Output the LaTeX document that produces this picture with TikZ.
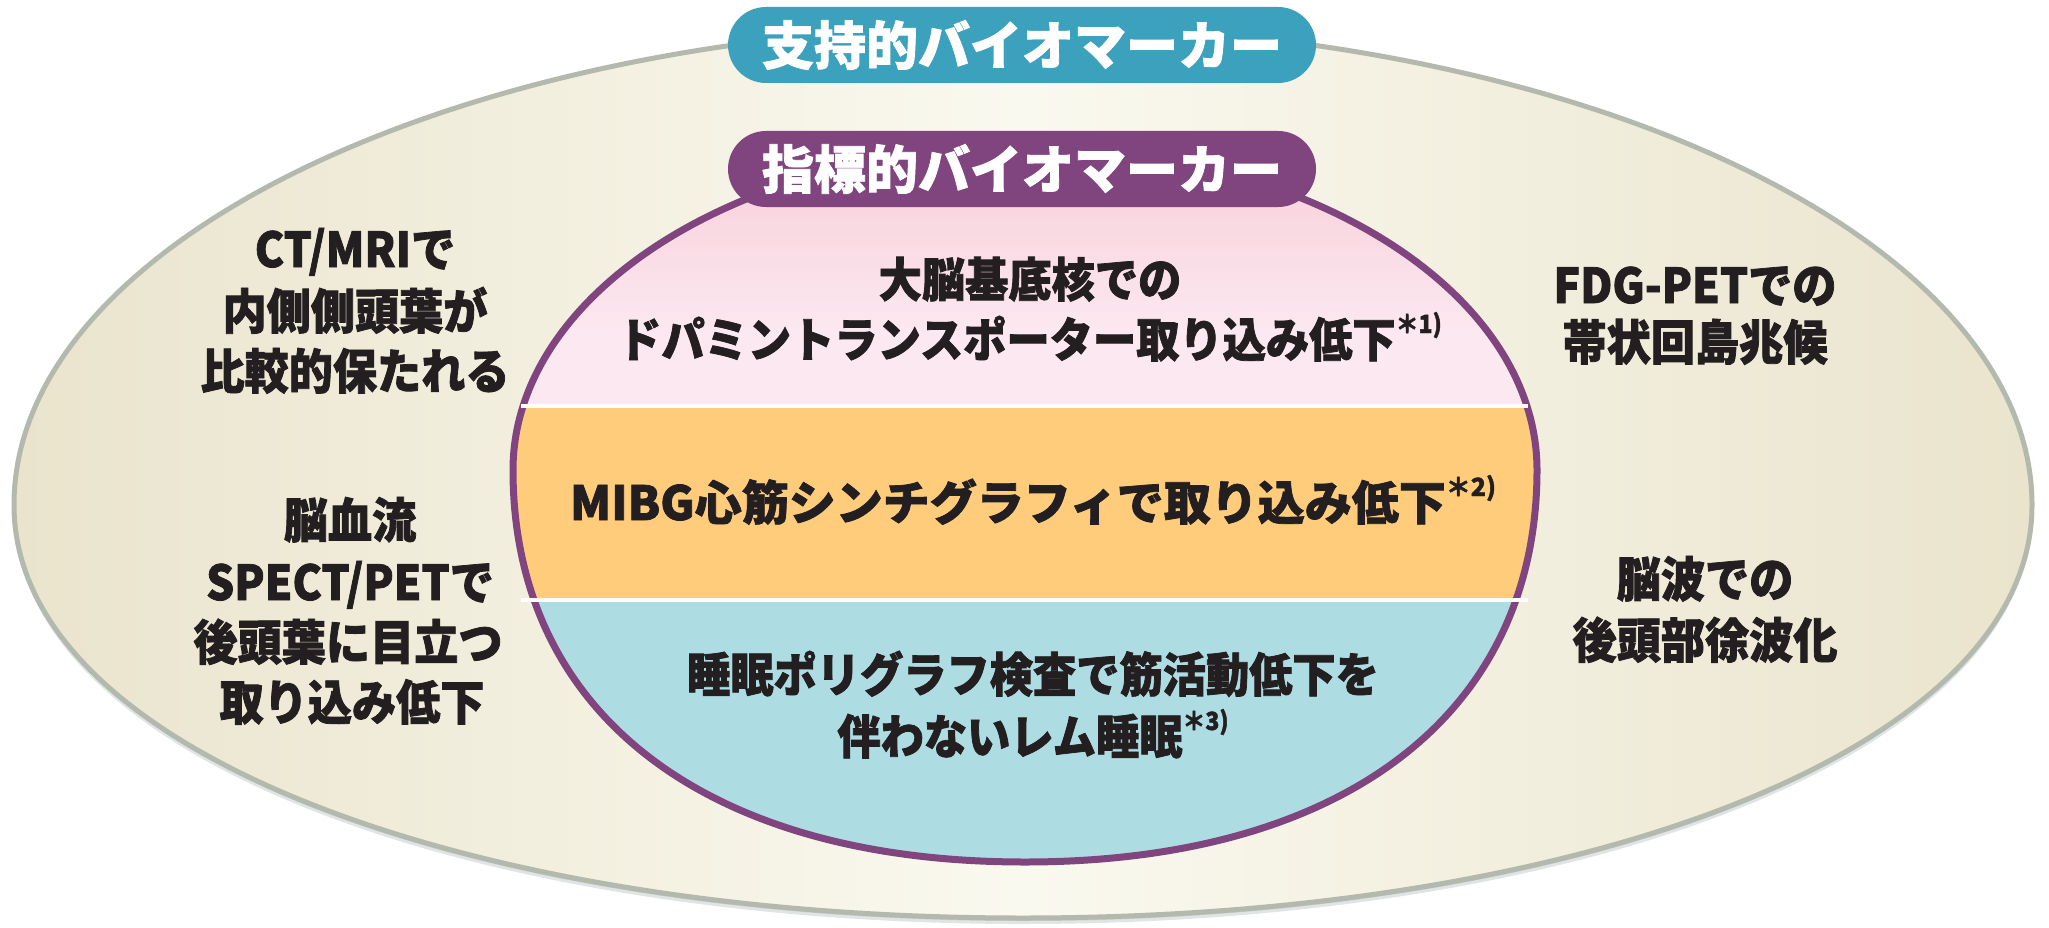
\documentclass[tikz,border=0pt]{standalone}
\usepackage{fontspec}
\newfontfamily\jpn{Noto Sans CJK JP}[FakeStretch=0.92, BoldFeatures={FakeBold=1.6}]
\newfontfamily\jpm{Noto Sans CJK JP}[BoldFeatures={FakeBold=1.6}]
\definecolor{ink}{HTML}{231F20}
\definecolor{beigeedge}{HTML}{EAE4CD}
\definecolor{beigemid}{HTML}{FAF9EF}
\definecolor{outerline}{HTML}{B3BAAD}
\definecolor{shadowc}{HTML}{A9B1B3}
\definecolor{purp}{HTML}{80457E}
\definecolor{tealc}{HTML}{3CA1BD}
\definecolor{pinktop}{HTML}{F7CCD7}
\definecolor{pinkbot}{HTML}{FCE8F0}
\definecolor{orangec}{HTML}{FFCC7B}
\definecolor{bluec}{HTML}{AEDCE3}
\newcommand{\fnote}[1]{\raisebox{24pt}{\fontsize{25}{25}\selectfont ＊#1)}}
\def\outerpath{(14,505) .. controls (14,240) and (465,25) .. (1023,25) .. controls (1581,25) and (2032,240) .. (2032,505) .. controls (2032,750) and (1581,918) .. (1023,918) .. controls (465,918) and (14,750) .. (14,505) -- cycle}
\def\innerpath{(513,470) .. controls (513,292) and (742,147) .. (1025,147) .. controls (1308,147) and (1537,292) .. (1537,470) .. controls (1537,715) and (1342,862) .. (1025,862) .. controls (708,862) and (513,715) .. (513,470) -- cycle}
\tikzset{
  txt/.style={font=\jpn\bfseries\fontsize{47}{56}\selectfont, text=ink, inner sep=0pt, anchor=base},
  side/.style={txt, font=\jpn\bfseries\fontsize{48}{56}\selectfont},
  txtm/.style={txt, font=\jpm\bfseries\fontsize{47}{56}\selectfont},
  pill/.style={minimum width=588pt, minimum height=76pt, rounded corners=38pt, inner sep=0pt,
    text=white, font=\jpm\bfseries\fontsize{52}{56}\selectfont},
  sepline/.style={white, line width=4pt},
}
\begin{document}
\begin{tikzpicture}[x=1pt,y=-1pt]
\useasboundingbox (0,0) rectangle (2049,928);
% outer ellipse with shadow
\begin{scope}[shift={(0,6)}]
  \fill[shadowc, opacity=0.35] \outerpath;
\end{scope}
\begin{scope}[shift={(0,3)}]
  \fill[shadowc, opacity=0.45] \outerpath;
\end{scope}
\shade[left color=beigeedge, right color=beigeedge, middle color=beigemid] \outerpath;
\draw[outerline, line width=5pt] \outerpath;
% inner bands
\begin{scope}
  \clip \innerpath;
  \shade[top color=pinktop, bottom color=pinkbot] (500,140) rectangle (1550,330);
  \fill[pinkbot] (500,329) rectangle (1550,406);
  \fill[orangec] (500,406) rectangle (1550,600);
  \fill[bluec] (500,600) rectangle (1550,875);
\end{scope}
\draw[purp, line width=7pt] \innerpath;
\coordinate (s1l) at (521,406); \coordinate (s1r) at (1528,406);
\coordinate (s2l) at (521,600); \coordinate (s2r) at (1528,600);
\draw[sepline] (s1l) -- (s1r);
\draw[sepline] (s2l) -- (s2r);
% pills
\node[pill, fill=tealc] (support) at (1022,45) {支持的バイオマーカー};
\node[pill, fill=purp] (indic) at (1022,169) {指標的バイオマーカー};
% pink band
\node[txt] (p1) at (1030,297) {大脳基底核での};
\node[txt] (p2) at (1030,357) {ドパミントランスポーター取り込み低下\fnote{1}};
% orange band
\node[txtm] (o1) at (1033,520) {MIBG心筋シンチグラフィで取り込み低下\fnote{2}};
% blue band
\node[txt] (b1) at (1033,692) {睡眠ポリグラフ検査で筋活動低下を};
\node[txt] (b2) at (1033,754) {伴わないレム睡眠\fnote{3}};
% left column
\node[side] (l1) at (355,267) {CT/MRIで};
\node[side] (l2) at (355,329) {内側側頭葉が};
\node[side] (l3) at (355,389) {比較的保たれる};
\node[side] (l4) at (350,538) {脳血流};
\node[side] (l5) at (350,600) {SPECT/PETで};
\node[side] (l6) at (348,660) {後頭葉に目立つ};
\node[side] (l7) at (352,720) {取り込み低下};
% right column
\node[side] (r1) at (1695,303) {FDG-PETでの};
\node[side] (r2) at (1695,360) {帯状回島兆候};
\node[side] (r3) at (1705,597) {脳波での};
\node[side] (r4) at (1705,658) {後頭部徐波化};
\end{tikzpicture}
\end{document}
